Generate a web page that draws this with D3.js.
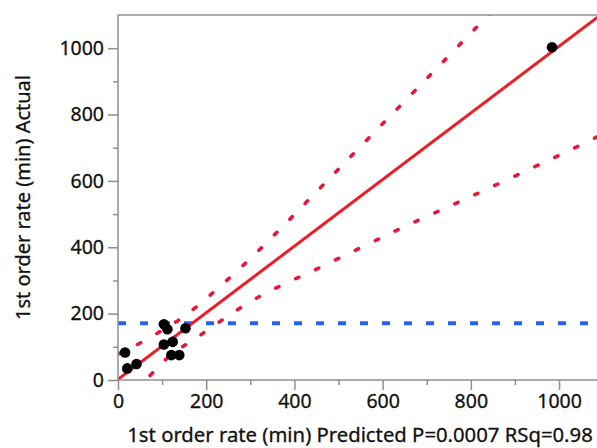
<!DOCTYPE html>
<html><head><meta charset="utf-8">
<script src="https://cdn.jsdelivr.net/npm/d3@7"></script>
<style>
html,body{margin:0;padding:0;background:#fff;}
svg{display:block;}
text{font-family:"Noto Sans","Open Sans",sans-serif;fill:#111;}
</style></head>
<body>
<script>
// ---- data ----
const predicted = [984, 16, 21, 42, 104, 112, 104, 124, 121, 139, 153];
const actual    = [1003, 83, 35, 48, 168, 153, 107, 115, 75, 75, 156];
const fitX = [0, 1100];
const fitY = [2, 1106];
const meanActual = 171;
const upperBandX = [0, 55, 120, 180, 300, 430, 600, 810, 870];
const upperBandY = [78, 115, 166, 223, 366, 540, 772, 1059, 1141];
const lowerBandX = [0, 70, 120, 183, 304, 440, 600, 712, 844, 1025, 1100];
const lowerBandY = [-78, 10, 76, 132, 239, 328, 431, 500, 580, 693, 742];
const xTicks = [0, 200, 400, 600, 800, 1000];
const yTicks = [0, 200, 400, 600, 800, 1000];
const minorTicks = [100, 300, 500, 700, 900];
const xTitle = "1st order rate (min) Predicted P=0.0007 RSq=0.98";
const yTitle = "1st order rate (min) Actual";

// ---- layout ----
const W = 597, H = 448;
const L = 118, R = 597, T = 15, B = 380;
const x = d3.scaleLinear().domain([0, 1086]).range([L, R]);
const y = d3.scaleLinear().domain([0, 1100]).range([B, T]);

const svg = d3.select("body").append("svg").attr("width", W).attr("height", H);

svg.append("defs").append("clipPath").attr("id", "clip")
  .append("rect").attr("x", L).attr("y", T).attr("width", R - L).attr("height", B - T);

const plot = svg.append("g").attr("clip-path", "url(#clip)");

// mean line
plot.append("line")
  .attr("x1", x(0)).attr("x2", x(1086))
  .attr("y1", y(meanActual)).attr("y2", y(meanActual))
  .attr("stroke", "#2a62f0").attr("stroke-width", 4)
  .attr("stroke-dasharray", "8,14");

// confidence bands
const band = d3.line().x(d => x(d[0])).y(d => y(d[1])).curve(d3.curveNatural);
[[upperBandX, upperBandY], [lowerBandX, lowerBandY]].forEach(([bx, by]) => {
  plot.append("path")
    .attr("d", band(bx.map((v, i) => [v, by[i]])))
    .attr("fill", "none").attr("stroke", "#e8173a").attr("stroke-width", 3.6)
    .attr("stroke-linecap", "round")
    .attr("stroke-dasharray", "3.5,18.5");
});

// fit line
plot.append("line")
  .attr("x1", x(fitX[0])).attr("y1", y(fitY[0]))
  .attr("x2", x(fitX[1])).attr("y2", y(fitY[1]))
  .attr("stroke", "#ee1c25").attr("stroke-width", 3);

// points
plot.selectAll("circle").data(predicted).enter().append("circle")
  .attr("cx", d => x(d)).attr("cy", (d, i) => y(actual[i]))
  .attr("r", 5.3).attr("fill", "#000");

// axes frame
const axisColor = "#8f8f8f";
svg.append("line").attr("x1", L).attr("x2", L).attr("y1", T).attr("y2", B + 0.5)
  .attr("stroke", axisColor).attr("stroke-width", 1.5);
svg.append("line").attr("x1", L).attr("x2", R).attr("y1", B).attr("y2", B)
  .attr("stroke", axisColor).attr("stroke-width", 1.5);
svg.append("line").attr("x1", L).attr("x2", R).attr("y1", T).attr("y2", T)
  .attr("stroke", axisColor).attr("stroke-width", 1.5);

// y axis
const yAxis = d3.axisLeft(y).tickValues(yTicks).tickSize(10).tickPadding(4).tickFormat(d3.format("d"));
const gy = svg.append("g").attr("transform", `translate(${L},0)`).call(yAxis);
gy.select(".domain").remove();
gy.selectAll(".tick line").attr("stroke", axisColor).attr("stroke-width", 1.5);
gy.selectAll(".tick text").attr("font-size", 19.5).attr("font-family", "Noto Sans").attr("fill", "#111")
  .attr("stroke", "#111").attr("stroke-width", 0.3);
const gym = svg.append("g").attr("transform", `translate(${L},0)`)
  .call(d3.axisLeft(y).tickValues(minorTicks).tickSize(5).tickFormat(""));
gym.select(".domain").remove();
gym.selectAll(".tick line").attr("stroke", axisColor).attr("stroke-width", 1.5);

// x axis
const xAxis = d3.axisBottom(x).tickValues(xTicks).tickSize(10).tickPadding(4).tickFormat(d3.format("d"));
const gx = svg.append("g").attr("transform", `translate(0,${B})`).call(xAxis);
gx.select(".domain").remove();
gx.selectAll(".tick line").attr("stroke", axisColor).attr("stroke-width", 1.5);
gx.selectAll(".tick text").attr("font-size", 19.5).attr("font-family", "Noto Sans").attr("fill", "#111")
  .attr("stroke", "#111").attr("stroke-width", 0.3);
const gxm = svg.append("g").attr("transform", `translate(0,${B})`)
  .call(d3.axisBottom(x).tickValues(minorTicks).tickSize(5).tickFormat(""));
gxm.select(".domain").remove();
gxm.selectAll(".tick line").attr("stroke", axisColor).attr("stroke-width", 1.5);

// titles
svg.append("text").attr("x", 360).attr("y", 442).attr("text-anchor", "middle")
  .attr("font-size", 20.3).attr("stroke", "#111").attr("stroke-width", 0.3).text(xTitle);
svg.append("text").attr("transform", `translate(30,${(T + B) / 2}) rotate(-90)`)
  .attr("text-anchor", "middle").attr("font-size", 20).attr("stroke", "#111").attr("stroke-width", 0.3).text(yTitle);
</script>
</body></html>
